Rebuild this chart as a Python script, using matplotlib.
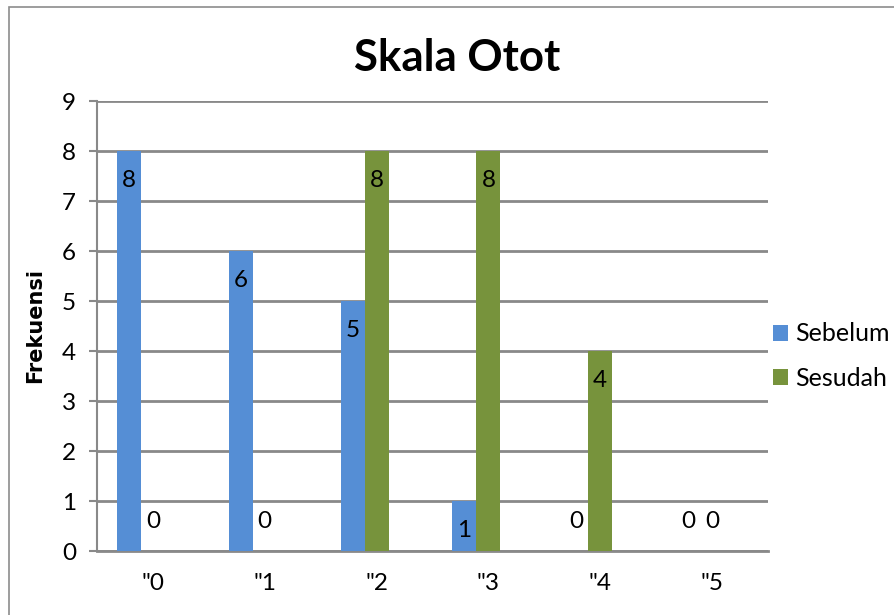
import matplotlib
matplotlib.use("Agg")
import matplotlib.pyplot as plt
from matplotlib.patches import Rectangle
import numpy as np

categories = ['"0', '"1', '"2', '"3', '"4', '"5']
sebelum = [8, 6, 5, 1, 0, 0]
sesudah = [0, 0, 8, 8, 4, 0]

BLUE = "#558ED5"
GREEN = "#77933C"
GRID = "#898989"
FONT = "Lato"


def add_labels(ax, xs, values):
    """Value labels at the inside end of each bar, Excel style."""
    for x, v in zip(xs, values):
        dy = -21 if v > 0 else 21
        ax.annotate(str(v), (x, v), xytext=(0, dy), textcoords="offset points",
                    ha="center", va="center", fontsize=17.5, family=FONT)


def main():
    fig = plt.figure(figsize=(8.95, 6.15), dpi=100)
    # outer chart frame (only top and left edges are visible in the picture)
    fig.patches.append(Rectangle((9 / 895, -0.01), 1.0, (615 - 7) / 615 + 0.01,
                                 transform=fig.transFigure, fill=False,
                                 edgecolor="#8c8c8c", linewidth=1.2))
    ax = fig.add_axes([97 / 895, 64 / 615, 671 / 895, 450 / 615])

    x = np.arange(len(categories))
    w = 0.215
    b1 = ax.bar(x - w, sebelum, w, color=BLUE, label="Sebelum", zorder=3)
    b2 = ax.bar(x, sesudah, w, color=GREEN, label="Sesudah", zorder=3)
    add_labels(ax, x - w, sebelum)
    add_labels(ax, x, sesudah)

    ax.set_xlim(-0.5, len(categories) - 0.5)
    ax.set_ylim(0, 9)
    ax.set_yticks(range(0, 10))
    ax.set_xticks(x)
    ax.set_xticklabels(categories)
    ax.yaxis.grid(True, color=GRID, linewidth=2, zorder=0)
    for side in ["top", "right"]:
        ax.spines[side].set_visible(False)
    ax.spines["left"].set_color(GRID)
    ax.spines["left"].set_linewidth(1.5)
    ax.spines["bottom"].set_color(GRID)
    ax.spines["bottom"].set_linewidth(2)
    ax.tick_params(axis="y", length=6, width=1.5, color=GRID, pad=9,
                   labelsize=17.5)
    ax.tick_params(axis="x", length=0, pad=16, labelsize=17.5)
    for lab in ax.get_xticklabels() + ax.get_yticklabels():
        lab.set_family(FONT)

    fig.text(35 / 895, 1 - 326 / 615, "Frekuensi", rotation=90, ha="center",
             va="center", fontsize=15, fontweight="bold", family="DejaVu Sans")
    fig.text(457 / 895, 1 - 58 / 615, "Skala Otot", ha="center", va="center",
             fontsize=31.5, fontweight="bold", family=FONT)

    fig.legend(handles=[b1, b2], labels=["Sebelum", "Sesudah"],
               loc="center left", bbox_to_anchor=(773 / 895, 1 - 356 / 615),
               frameon=False, prop={"family": FONT, "size": 18},
               handlelength=0.6, handleheight=0.6, handletextpad=0.3,
               labelspacing=0.85, borderpad=0, borderaxespad=0)

    fig.savefig("out.png", dpi=100)


if __name__ == "__main__":
    main()
